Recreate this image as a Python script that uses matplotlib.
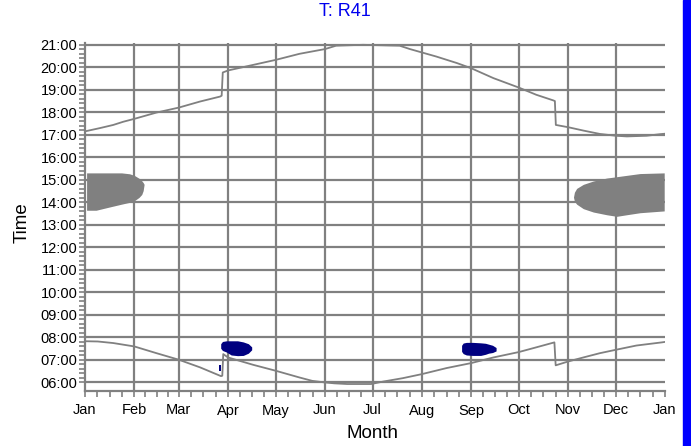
import matplotlib
matplotlib.use("Agg")
import matplotlib.pyplot as plt
from matplotlib.patches import Rectangle

plt.rcParams['font.family'] = ['Liberation Sans', 'DejaVu Sans']

# ---- data (day of year, hours) ----
month_starts = [0, 31, 59, 90, 120, 151, 181, 212, 243, 273, 304, 334, 365]
month_labels = ["Jan", "Feb", "Mar", "Apr", "May", "Jun", "Jul", "Aug",
                "Sep", "Oct", "Nov", "Dec", "Jan"]
hour_ticks = list(range(6, 22))
hour_labels = ["%02d:00" % h for h in hour_ticks]

sunset_days = [1, 9.4, 17.8, 24, 31, 45, 59, 72.4, 85, 86, 86.7, 90, 106, 120,
               135, 151, 158, 175, 191, 198, 204.5, 212, 221, 234, 243, 257,
               273, 284, 294.7, 295.7, 296.3, 304, 313.6, 324, 334, 341, 353.5,
               362, 365]
sunset_hours = [17.17, 17.30, 17.44, 17.58, 17.71, 17.99, 18.21, 18.48, 18.70,
                18.74, 19.77, 19.86, 20.11, 20.33, 20.60, 20.81, 20.96, 21.0,
                20.97, 20.96, 20.81, 20.66, 20.48, 20.19, 19.96, 19.52, 19.10,
                18.78, 18.53, 18.50, 17.44, 17.34, 17.19, 17.04, 16.96, 16.93,
                16.96, 17.03, 17.05]

sunrise_days = [1, 8, 17.8, 31, 45, 59, 72.4, 85.6, 86.4, 87, 90, 106, 120, 135,
                143, 151, 157, 165, 180, 187.7, 200, 212, 227.6, 243, 257, 273,
                284, 295.4, 296.2, 304, 313.6, 324, 334, 347, 363, 365]
sunrise_hours = [7.83, 7.82, 7.75, 7.60, 7.30, 7.01, 6.67, 6.28, 6.30, 7.26,
                 7.11, 6.78, 6.52, 6.22, 6.07, 6.0, 5.96, 5.93, 5.93, 6.04,
                 6.19, 6.37, 6.64, 6.86, 7.11, 7.35, 7.56, 7.78, 6.76, 6.93,
                 7.11, 7.30, 7.45, 7.64, 7.78, 7.80]

# gray shading (winter)
jan_days = [1, 7, 14, 23, 28, 31, 34, 35.7, 36.6, 37.2]
jan_upper = [15.31, 15.31, 15.31, 15.31, 15.27, 15.20, 15.07, 14.96, 14.88, 14.80]
jan_lower = [13.65, 13.65, 13.77, 13.92, 14.00, 14.07, 14.22, 14.35, 14.52, 14.80]

dec_days = [307.4, 308, 309.4, 313.6, 319.9, 328.3, 334.6, 340.9, 349.3, 364.5]
dec_upper = [14.23, 14.45, 14.62, 14.80, 14.95, 15.08, 15.14, 15.20, 15.28, 15.31]
dec_lower = [14.23, 14.05, 13.92, 13.72, 13.57, 13.45, 13.38, 13.45, 13.54, 13.62]

# blue shading
apr_days = [85.4, 86.5, 89, 92, 96, 99.6, 102.8, 104.9]
apr_upper = [7.72, 7.82, 7.85, 7.85, 7.85, 7.80, 7.72, 7.58]
apr_lower = [7.52, 7.42, 7.35, 7.22, 7.19, 7.20, 7.30, 7.45]

apr2_days = [84.6, 85.8]
apr2_upper = [6.77, 6.77]
apr2_lower = [6.52, 6.52]

sep_days = [237, 238, 240, 244, 249, 252, 254, 256.5, 258.7]
sep_upper = [7.65, 7.75, 7.78, 7.78, 7.76, 7.74, 7.70, 7.65, 7.55]
sep_lower = [7.38, 7.28, 7.22, 7.20, 7.20, 7.25, 7.30, 7.33, 7.40]

GRAY = "#808080"
NAVY = "#000080"

fig = plt.figure(figsize=(6.91, 4.46), dpi=100)
ax = fig.add_axes([85 / 691, 55 / 446, 580 / 691, 348 / 446])
ax.set_xlim(0, 365)
ax.set_ylim(5.62, 21.08)

# grid
for h in hour_ticks:
    ax.axhline(h, color=GRAY, lw=1.6, zorder=1)
for m in month_starts[1:-1]:
    ax.axvline(m, color=GRAY, lw=1.6, zorder=1)

ax.fill_between(jan_days, jan_lower, jan_upper, color=GRAY, lw=0, zorder=2)
ax.fill_between(dec_days, dec_lower, dec_upper, color=GRAY, lw=0, zorder=2)
ax.fill_between(apr_days, apr_lower, apr_upper, color=NAVY, lw=0, zorder=3)
ax.fill_between(apr2_days, apr2_lower, apr2_upper, color=NAVY, lw=0, zorder=3)
ax.fill_between(sep_days, sep_lower, sep_upper, color=NAVY, lw=0, zorder=3)

ax.plot(sunset_days, sunset_hours, color=GRAY, lw=1.3, zorder=4)
ax.plot(sunrise_days, sunrise_hours, color=GRAY, lw=1.3, zorder=4)

# axes styling
for s in ["top", "right"]:
    ax.spines[s].set_visible(False)
for s in ["left", "bottom"]:
    ax.spines[s].set_color(GRAY)
    ax.spines[s].set_linewidth(1.6)

ax.set_xticks(month_starts)
ax.set_xticklabels(month_labels)
minor_x = []
for a, b in zip(month_starts[:-1], month_starts[1:]):
    minor_x += [a + (b - a) * k / 4 for k in (1, 2, 3)]
ax.set_xticks(minor_x, minor=True)

ax.set_yticks(hour_ticks)
ax.set_yticklabels(hour_labels)
minor_y = [6 + 0.2 * k for k in range(0, 76) if k % 5 != 0]
ax.set_yticks([v for v in minor_y if v < 21.05], minor=True)

ax.tick_params(axis="both", which="both", direction="out", color=GRAY,
               width=1.2, labelsize=10.5, labelcolor="black")
ax.tick_params(axis="x", which="both", length=4, pad=5)
ax.tick_params(axis="y", which="both", length=4, pad=1.5)

fig.text(22 / 691, 1 - 223 / 446, "Time", rotation=90, ha="center",
         va="center", fontsize=13.5)
fig.text(373 / 691, 1 - 433 / 446, "Month", ha="center", va="center",
         fontsize=13.5)
fig.text(345 / 691, 1 - 12 / 446, "T: R41", ha="center", va="center",
         fontsize=13, color="#0000ee")

fig.patches.append(Rectangle((683 / 691, 0), 8 / 691, 1, transform=fig.transFigure,
                             color="#0000ff", zorder=10))

fig.savefig("out.png", dpi=100)
